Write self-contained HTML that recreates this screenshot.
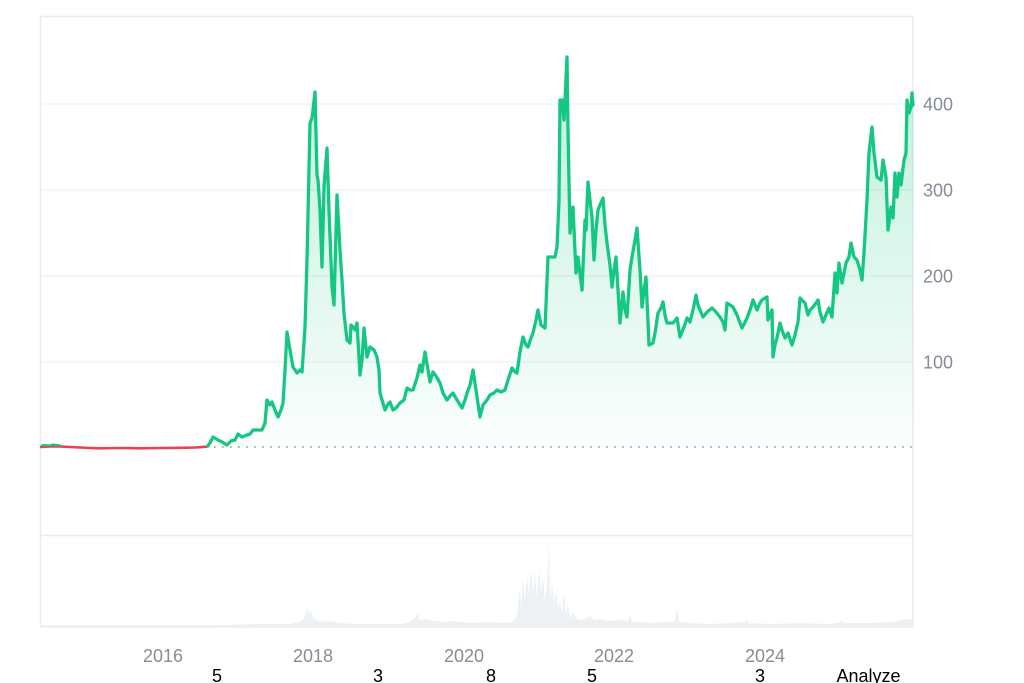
<!DOCTYPE html>
<html><head><meta charset="utf-8"><style>
html,body{margin:0;padding:0;background:#fff;}
body{width:1024px;height:683px;overflow:hidden;position:relative;font-family:"Liberation Sans",Arial,sans-serif;}
svg{position:absolute;left:0;top:0;}
</style></head><body>
<svg width="1024" height="683" viewBox="0 0 1024 683" xmlns="http://www.w3.org/2000/svg">
<defs>
<linearGradient id="g" x1="0" y1="57" x2="0" y2="447" gradientUnits="userSpaceOnUse">
<stop offset="0" stop-color="#16c784" stop-opacity="0.28"/>
<stop offset="1" stop-color="#16c784" stop-opacity="0.02"/>
</linearGradient>
</defs>
<!-- frame -->
<rect x="40.5" y="16.5" width="872.5" height="610.5" fill="none" stroke="#e9ebee" stroke-width="1.5"/>
<line x1="40" y1="535.5" x2="913" y2="535.5" stroke="#e9ebee" stroke-width="1.5"/>
<!-- grid -->
<g stroke="#eeeff1" stroke-width="1.3">
<line x1="40" y1="104" x2="913" y2="104"/>
<line x1="40" y1="190" x2="913" y2="190"/>
<line x1="40" y1="276" x2="913" y2="276"/>
<line x1="40" y1="362" x2="913" y2="362"/>
</g>
<!-- volume -->
<path fill="#eef1f4" d="M40,627 L40,625 L100,625 L160,625 L220,625 L260,624 L290,624 L300,622 L304,618 L306,612 L308,607 L309,614 L311,610 L313,618 L316,620 L320,622 L330,621 L340,623 L360,624 L380,624 L400,624 L410,622 L415,618 L418,613 L420,620 L425,619 L435,621 L445,622 L455,621 L470,623 L490,622 L505,623 L512,622 L516,618 L518,605 L520,586 L521,610 L523,578 L525,600 L527,575 L529,596 L531,571 L533,592 L535,573 L537,598 L539,569 L541,592 L543,578 L545,600 L547,585 L549,542 L550,600 L552,581 L554,605 L556,588 L558,610 L560,600 L562,612 L564,592 L566,615 L568,603 L570,618 L573,612 L576,618 L580,620 L585,619 L590,616 L595,620 L600,619 L610,621 L620,620 L628,621 L630,614 L632,622 L640,622 L650,623 L665,622 L675,622 L677,607 L679,622 L690,623 L710,624 L730,623 L745,622 L747,619 L749,623 L770,624 L800,623 L830,624 L840,622 L842,620 L844,623 L870,623 L890,622 L900,621 L905,619 L913,620 L913,627 Z"/>
<!-- dotted baseline -->
<line x1="214" y1="447" x2="913" y2="447" stroke="#8a8f98" stroke-width="1.6" stroke-dasharray="1.6 6.4"/>
<!-- area -->
<path fill="url(#g)" d="M208,446 L211,441 L213,437 L218,440 L222,442 L227,445 L231,441 L235,440 L238,434 L242,437 L247,435 L250,434 L253,430 L258,430 L262,430 L265,423 L267,400 L270,405 L272,402 L275,410 L278,417 L281,410 L283,403 L285,370 L287,332 L290,350 L293,367 L297,373 L300,370 L302,372 L305,327 L307,260 L310,123 L312,118 L313,110 L315,92 L317,175 L318,180 L320,210 L322,267 L324,187 L327,148 L329,210 L332,287 L334,305 L337,195 L340,250 L342,280 L344,313 L347,340 L350,343 L351,325 L353,327 L355,330 L357,323 L360,375 L362,360 L364,328 L367,357 L370,347 L374,350 L377,357 L379,370 L380,393 L385,410 L388,404 L390,402 L393,410 L396,408 L400,403 L404,400 L407,388 L410,390 L413,390 L417,378 L420,365 L422,372 L425,352 L428,370 L430,382 L433,372 L436,376 L440,383 L443,393 L447,400 L450,396 L453,393 L457,400 L462,408 L465,400 L467,393 L470,385 L473,370 L476,390 L480,417 L483,405 L487,400 L490,395 L494,393 L497,390 L501,392 L505,390 L508,380 L512,368 L515,372 L517,373 L520,352 L523,337 L526,345 L528,347 L531,338 L533,333 L536,320 L538,310 L541,325 L545,328 L548,257 L552,257 L555,257 L557,247 L559,200 L560,100 L562,100 L564,120 L565,100 L567,57 L568,130 L570,233 L573,207 L576,273 L578,257 L582,290 L585,220 L586,230 L588,182 L590,200 L592,217 L594,260 L596,230 L598,210 L600,205 L603,198 L605,225 L607,243 L610,265 L612,287 L614,270 L616,257 L618,290 L620,323 L623,292 L625,310 L627,317 L630,270 L632,257 L635,240 L637,228 L640,270 L642,307 L644,290 L646,277 L649,345 L653,343 L655,333 L658,313 L661,308 L663,302 L665,315 L667,323 L670,323 L673,323 L677,318 L680,337 L684,327 L687,318 L690,322 L693,310 L696,295 L698,305 L700,310 L703,317 L707,312 L712,308 L716,312 L720,317 L723,322 L725,330 L727,303 L730,305 L733,307 L737,315 L742,328 L745,322 L747,318 L750,310 L753,300 L757,310 L760,303 L762,300 L765,298 L767,297 L768,320 L770,315 L772,310 L773,357 L775,345 L777,338 L780,323 L782,330 L785,338 L788,333 L792,345 L795,335 L798,322 L800,298 L802,300 L805,303 L808,315 L810,310 L813,307 L816,303 L818,300 L820,312 L823,322 L826,315 L829,308 L832,317 L835,273 L837,293 L839,263 L842,283 L846,263 L849,257 L851,243 L854,257 L857,260 L860,270 L862,280 L864,253 L867,200 L869,153 L872,127 L874,153 L877,177 L881,180 L883,160 L886,177 L888,230 L891,207 L893,218 L895,173 L897,197 L899,173 L901,185 L904,160 L906,153 L907,100 L909,113 L911,107 L912,93 L913,105 L913,447 L208,447 Z"/>
<!-- red line -->
<polyline fill="none" stroke="#e5434d" stroke-width="2.6" stroke-linejoin="round" points="40,447 50,446.5 60,446.5 70,447 80,447.5 90,448 100,448.3 120,448 140,448.3 160,448 180,447.8 195,447.5 200,447.2 208,446.5"/>
<polyline fill="none" stroke="#16c784" stroke-width="2" stroke-linejoin="round" points="41,445.5 45,445 49,445.5 53,444.5 57,445 61,445.5"/>
<!-- green line -->
<path fill="none" stroke="#16c784" stroke-width="3.3" stroke-linejoin="round" stroke-linecap="round" d="M208,446 L211,441 L213,437 L218,440 L222,442 L227,445 L231,441 L235,440 L238,434 L242,437 L247,435 L250,434 L253,430 L258,430 L262,430 L265,423 L267,400 L270,405 L272,402 L275,410 L278,417 L281,410 L283,403 L285,370 L287,332 L290,350 L293,367 L297,373 L300,370 L302,372 L305,327 L307,260 L310,123 L312,118 L313,110 L315,92 L317,175 L318,180 L320,210 L322,267 L324,187 L327,148 L329,210 L332,287 L334,305 L337,195 L340,250 L342,280 L344,313 L347,340 L350,343 L351,325 L353,327 L355,330 L357,323 L360,375 L362,360 L364,328 L367,357 L370,347 L374,350 L377,357 L379,370 L380,393 L385,410 L388,404 L390,402 L393,410 L396,408 L400,403 L404,400 L407,388 L410,390 L413,390 L417,378 L420,365 L422,372 L425,352 L428,370 L430,382 L433,372 L436,376 L440,383 L443,393 L447,400 L450,396 L453,393 L457,400 L462,408 L465,400 L467,393 L470,385 L473,370 L476,390 L480,417 L483,405 L487,400 L490,395 L494,393 L497,390 L501,392 L505,390 L508,380 L512,368 L515,372 L517,373 L520,352 L523,337 L526,345 L528,347 L531,338 L533,333 L536,320 L538,310 L541,325 L545,328 L548,257 L552,257 L555,257 L557,247 L559,200 L560,100 L562,100 L564,120 L565,100 L567,57 L568,130 L570,233 L573,207 L576,273 L578,257 L582,290 L585,220 L586,230 L588,182 L590,200 L592,217 L594,260 L596,230 L598,210 L600,205 L603,198 L605,225 L607,243 L610,265 L612,287 L614,270 L616,257 L618,290 L620,323 L623,292 L625,310 L627,317 L630,270 L632,257 L635,240 L637,228 L640,270 L642,307 L644,290 L646,277 L649,345 L653,343 L655,333 L658,313 L661,308 L663,302 L665,315 L667,323 L670,323 L673,323 L677,318 L680,337 L684,327 L687,318 L690,322 L693,310 L696,295 L698,305 L700,310 L703,317 L707,312 L712,308 L716,312 L720,317 L723,322 L725,330 L727,303 L730,305 L733,307 L737,315 L742,328 L745,322 L747,318 L750,310 L753,300 L757,310 L760,303 L762,300 L765,298 L767,297 L768,320 L770,315 L772,310 L773,357 L775,345 L777,338 L780,323 L782,330 L785,338 L788,333 L792,345 L795,335 L798,322 L800,298 L802,300 L805,303 L808,315 L810,310 L813,307 L816,303 L818,300 L820,312 L823,322 L826,315 L829,308 L832,317 L835,273 L837,293 L839,263 L842,283 L846,263 L849,257 L851,243 L854,257 L857,260 L860,270 L862,280 L864,253 L867,200 L869,153 L872,127 L874,153 L877,177 L881,180 L883,160 L886,177 L888,230 L891,207 L893,218 L895,173 L897,197 L899,173 L901,185 L904,160 L906,153 L907,100 L909,113 L911,107 L912,93 L913,105"/>
<!-- right axis labels -->
<g font-family="Liberation Sans, Arial, sans-serif" font-size="18" fill="#868c97">
<text x="923" y="110.5">400</text>
<text x="923" y="196.5">300</text>
<text x="923" y="282.5">200</text>
<text x="923" y="368.5">100</text>
</g>
<!-- x axis labels -->
<g font-family="Liberation Sans, Arial, sans-serif" font-size="18" fill="#868c97" text-anchor="middle">
<text x="163" y="662">2016</text>
<text x="313" y="662">2018</text>
<text x="464" y="662">2020</text>
<text x="614" y="662">2022</text>
<text x="765" y="662">2024</text>
</g>
<g font-family="Liberation Sans, Arial, sans-serif" font-size="18" fill="#000" text-anchor="middle">
<text x="217" y="682">5</text>
<text x="378" y="682">3</text>
<text x="491" y="682">8</text>
<text x="592" y="682">5</text>
<text x="760" y="682">3</text>
<text x="868.5" y="682">Analyze</text>
</g>
</svg>
</body></html>
